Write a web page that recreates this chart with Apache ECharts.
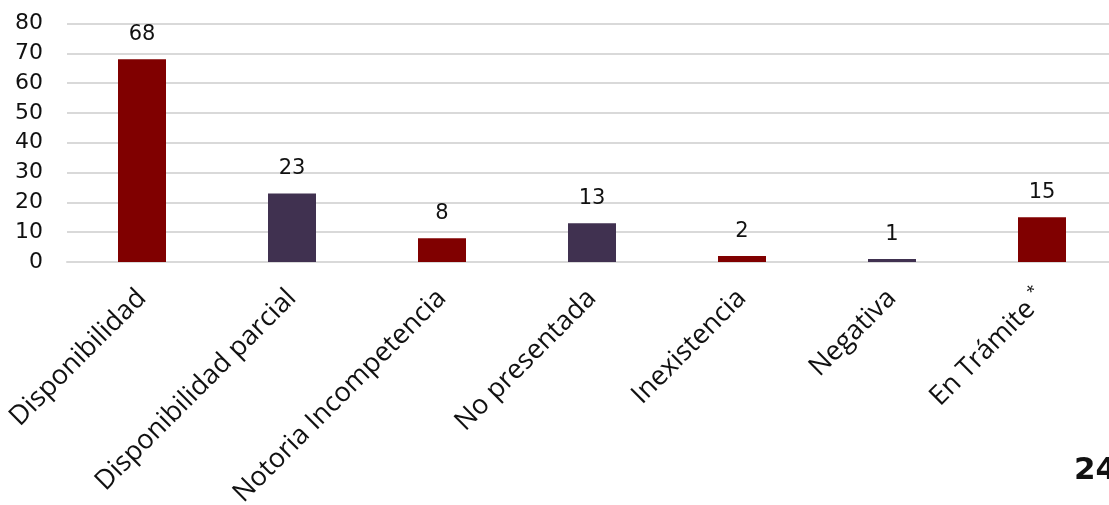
<!DOCTYPE html>
<html><head><meta charset="utf-8">
<script src="https://cdn.jsdelivr.net/npm/echarts@6/dist/echarts.min.js"></script>
<style>html,body{margin:0;padding:0;background:#fff;}#c{width:1109px;height:505px;}</style>
</head><body><div id="c"></div>
<script>
const categories = ['Disponibilidad','Disponibilidad parcial','Notoria Incompetencia','No presentada','Inexistencia','Negativa','En Trámite *'];
const values = [68, 23, 8, 13, 2, 1, 15];
const barColors = ['#800000','#403150','#800000','#403150','#800000','#403150','#800000'];
const yTicks = {min: 0, max: 80, interval: 10};
const pageNumber = '24';

const chart = echarts.init(document.getElementById('c'));
const font = '"DejaVu Sans", "Liberation Sans", Arial, sans-serif';
const catFont = '"Open Sans", "DejaVu Sans", Arial, sans-serif';
chart.setOption({
  animation: false,
  grid: {left: 67, top: 23.5, width: 1050, height: 238.5, containLabel: false, outerBoundsMode: 'none'},
  xAxis: {
    type: 'category', data: categories,
    axisLine: {show: true, lineStyle: {color: '#d9d9d9', width: 2}},
    axisTick: {show: false},
    axisLabel: {
      interval: 0, rotate: 45, margin: 32, fontSize: 27, color: '#111', fontFamily: catFont,
      formatter: function(v){ return v.endsWith(' *') ? v.slice(0,-2) + ' {sup|*}' : v; },
      rich: {sup: {fontSize: 16, verticalAlign: 'top', padding: [0,0,16,0], color: '#111', fontFamily: catFont}}
    }
  },
  yAxis: {
    type: 'value', min: yTicks.min, max: yTicks.max, interval: yTicks.interval,
    axisLine: {show: false}, axisTick: {show: false},
    axisLabel: {fontSize: 22, color: '#111', fontFamily: font, margin: 24},
    splitLine: {lineStyle: {color: '#d9d9d9', width: 2}}
  },
  series: [{
    type: 'bar', data: values.map((v,i)=>({value: v, itemStyle: {color: barColors[i]}})),
    barWidth: 48,
    label: {show: true, position: 'top', distance: 14, fontSize: 21, color: '#111', fontFamily: font}
  }],
  graphic: [{type: 'text', left: 1074, top: 455, style: {text: pageNumber, fontSize: 31, fontWeight: 'bold', fill: '#111', fontFamily: font}}]
});
</script></body></html>
